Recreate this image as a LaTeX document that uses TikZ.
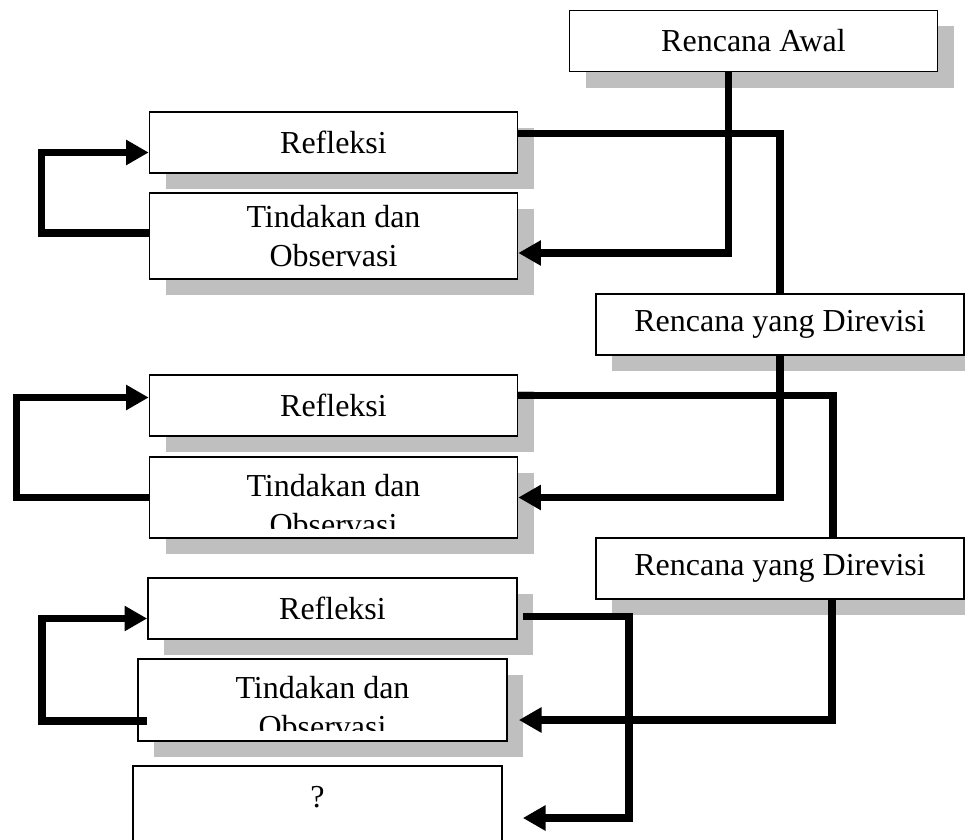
\documentclass[tikz,border=0pt]{standalone}
\usepackage{fontspec}
\setmainfont{Liberation Serif}
\usetikzlibrary{calc,shadows,arrows.meta}

\tikzset{
	kotak/.style={draw, line width=0.6pt, fill=white, minimum width=138pt, minimum height=22.9pt, inner sep=0pt, font=\fontsize{12}{14.5}\selectfont, align=center},
	kotakbayang/.style={kotak, drop shadow={shadow xshift=6pt, shadow yshift=-6pt, fill=black!25, opacity=1}},
	teks/.style={inner sep=0pt, font=\fontsize{12}{14.5}\selectfont, align=center},
	garis/.style={line width=2.8pt},
	panah/.style={line width=2.8pt, -{Triangle[length=8.5pt,width=9pt]}}
}

\begin{document}
\begin{tikzpicture}[x=0.375pt, y=-0.375pt]
		%%%%% START %%%%%
		\clip (0,0) rectangle (965,840);
		
		\node[kotakbayang] (ra) at (753.5,41) {Rencana Awal};
		
		% siklus 1
		\node[kotakbayang] (ref1) at (333.5,142.5) {Refleksi};
		\node[kotakbayang, minimum height=32.25pt] (tin1) at (333.5,236) {Tindakan dan\\Observasi};
		\node[kotakbayang] (rev1) at (780,324.5) {Rencana yang Direvisi};
		
		% siklus 2
		\node[kotakbayang] (ref2) at (333.5,405.5) {Refleksi};
		\node[kotakbayang, minimum height=30.4pt] (tin2) at (333.5,497.5) {};
		\begin{scope}
			\clip (tin2.north west) rectangle ($(tin2.south east)+(0,-10)$);
			\node[teks, anchor=north] (tin2txt) at ($(tin2.north)+(0,18)$) {Tindakan dan\\Observasi};
		\end{scope}
		\node[kotakbayang] (rev2) at (780,568.5) {Rencana yang Direvisi};
		
		% siklus 3
		\node[kotakbayang, minimum width=138.4pt] (ref3) at (332.5,608.5) {Refleksi};
		\node[kotakbayang, minimum height=30.75pt, minimum width=138.4pt] (tin3) at (322.5,700) {};
		\begin{scope}
			\clip (tin3.north west) rectangle ($(tin3.south east)+(0,-11)$);
			\node[teks, anchor=north] (tin3txt) at ($(tin3.north)+(0,18)$) {Tindakan dan\\Observasi};
		\end{scope}
		
		\node[kotak, minimum width=138.4pt, minimum height=41.25pt, anchor=north] (tanya) at (317.5,765) {};
		\node[teks] (tanyatxt) at ($(tanya.north)+(0,32)$) {?};
		
		% putaran kiri
		\draw[panah] ($(tin1.west)+(0,-3)$) -- ++(-107,0) |- ($(ref1.west)+(0,10)$);
		\draw[panah] (tin2.west) -- ++(-132,0) |- ($(ref2.west)+(0,-8)$);
		\draw[panah] ($(tin3.west)+(10,21)$) -- ++(-105,0) |- ($(ref3.west)+(0,10)$);
		
		% alur kanan
		\draw[garis] ($(ref1.east)+(0,-9)$) -| (rev1.north);
		\draw[panah] ($(ra.south)+(-25,0)$) |- ($(tin1.east)+(0,17)$);
		\draw[garis] ($(ref2.east)+(0,-10)$) -| ($(rev2.north)+(53,0)$);
		\draw[panah] (rev1.south) |- (tin2.east);
		\draw[panah] ($(rev2.south)+(52,0)$) |- ($(tin3.east)+(11,20)$);
		\draw[panah] ($(ref3.east)+(5,8)$) -- ++(106,0) |- ($(tanya.north east)+(20,53)$);
		
		%%%%% END %%%%%
\end{tikzpicture}
\end{document}
